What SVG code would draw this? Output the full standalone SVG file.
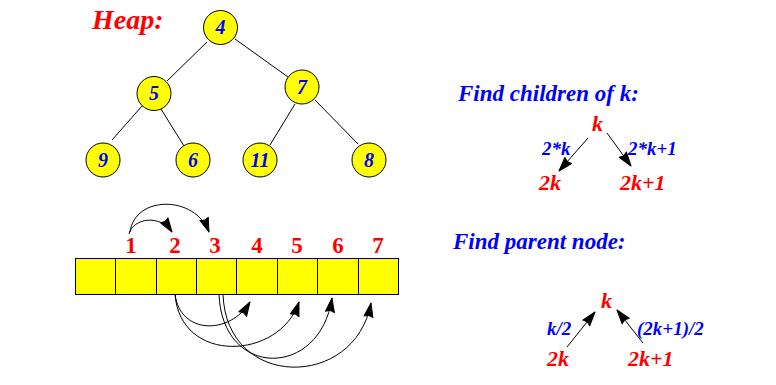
<svg xmlns="http://www.w3.org/2000/svg" width="776" height="385" viewBox="0 0 776 385">
<style>
.bg{fill:#ffffff}
.node{fill:#ffff00;stroke:#000;stroke-width:1}
.nt{font-family:"Liberation Serif",serif;font-weight:bold;font-style:italic;font-size:20px;fill:#0000ff;text-anchor:middle}
.edge{stroke:#000;stroke-width:1;fill:none}
.cell{fill:#ffff00;stroke:#000;stroke-width:1}
.idx{font-family:"Liberation Serif",serif;font-weight:bold;font-size:23px;fill:#ff0000;text-anchor:middle}
.title{font-family:"Liberation Serif",serif;font-weight:bold;font-style:italic;font-size:23px;fill:#0000ff}
.heap{font-family:"Liberation Serif",serif;font-weight:bold;font-style:italic;font-size:28px;fill:#ff0000}
.rk{font-family:"Liberation Serif",serif;font-weight:bold;font-style:italic;font-size:22px;fill:#ff0000}
.bl{font-family:"Liberation Serif",serif;font-weight:bold;font-style:italic;font-size:19px;fill:#0000ff}
.arr{stroke:#000;stroke-width:1;fill:none;marker-end:url(#ah)}
</style>
<defs>
<marker id="ah" markerUnits="userSpaceOnUse" viewBox="0 0 15 12" markerWidth="15" markerHeight="12" refX="14" refY="6" orient="auto" overflow="visible">
<path d="M0,1.5 L14,6 L0,10.5 L1.5,6 Z" fill="#000" stroke="#000" stroke-width="1" stroke-linejoin="round"/>
</marker>
</defs>
<rect class="bg" x="0" y="0" width="776" height="385"/>
<text class="heap" x="92" y="29">Heap:</text>
<g id="connectors">
<line class="edge" x1="207" y1="42" x2="167" y2="81"/>
<line class="edge" x1="235" y1="39" x2="288" y2="77"/>
<line class="edge" x1="142" y1="106" x2="112" y2="140"/>
<line class="edge" x1="161" y1="109" x2="184" y2="146"/>
<line class="edge" x1="295" y1="104" x2="270" y2="145"/>
<line class="edge" x1="315" y1="100" x2="358" y2="144"/>
<path class="arr" d="M129,234 C133,218 160,214 172,232"/>
<path class="arr" d="M130,232 C135,195 195,195 209,232"/>
<path class="arr" d="M175,294 C180,335 230,335 250,302"/>
<path class="arr" d="M175,294 C180,365 280,360 299,302"/>
<path class="arr" d="M219,294 C222,379 320,379 332,298"/>
<path class="arr" d="M223,294 C226,390 355,390 371,303"/>
<line class="arr" x1="588" y1="138" x2="559" y2="171"/>
<line class="arr" x1="607" y1="133" x2="631" y2="166"/>
<line class="arr" x1="567" y1="347" x2="595" y2="312"/>
<line class="arr" x1="643" y1="343" x2="617" y2="310"/>
</g>
<g id="n4"><circle class="node" cx="220.5" cy="27.5" r="17"/><text class="nt" x="220.5" y="34">4</text></g>
<g id="n5"><circle class="node" cx="154" cy="93.5" r="17"/><text class="nt" x="154" y="100">5</text></g>
<g id="n7"><circle class="node" cx="302" cy="87" r="17"/><text class="nt" x="302" y="93.5">7</text></g>
<g id="n9"><circle class="node" cx="103" cy="160" r="17"/><text class="nt" x="103" y="166.5">9</text></g>
<g id="n6"><circle class="node" cx="193" cy="160" r="17"/><text class="nt" x="193" y="166.5">6</text></g>
<g id="n11"><circle class="node" cx="260" cy="160" r="17"/><text class="nt" x="260" y="166.5">11</text></g>
<g id="n8"><circle class="node" cx="369" cy="160" r="17"/><text class="nt" x="369" y="166.5">8</text></g>
<g id="array">
<rect class="cell" x="75.5" y="258.5" width="40" height="36"/>
<rect class="cell" x="115.5" y="258.5" width="41" height="36"/>
<rect class="cell" x="156.5" y="258.5" width="40" height="36"/>
<rect class="cell" x="196.5" y="258.5" width="40" height="36"/>
<rect class="cell" x="236.5" y="258.5" width="41" height="36"/>
<rect class="cell" x="277.5" y="258.5" width="40" height="36"/>
<rect class="cell" x="317.5" y="258.5" width="41" height="36"/>
<rect class="cell" x="358.5" y="258.5" width="40" height="36"/>
</g>
<g id="indices">
<text class="idx" x="131" y="253">1</text>
<text class="idx" x="175" y="253">2</text>
<text class="idx" x="215" y="253">3</text>
<text class="idx" x="257" y="253">4</text>
<text class="idx" x="297" y="253">5</text>
<text class="idx" x="338" y="253">6</text>
<text class="idx" x="378" y="253">7</text>
</g>
<g id="children">
<text class="title" x="458" y="101">Find children of k:</text>
<text class="rk" x="592" y="131">k</text>
<text class="bl" x="542" y="155">2*k</text>
<text class="bl" x="628" y="155">2*k+1</text>
<text class="rk" x="539" y="190">2k</text>
<text class="rk" x="620" y="190">2k+1</text>
</g>
<g id="parent">
<text class="title" x="453" y="249">Find parent node:</text>
<text class="rk" x="601" y="308">k</text>
<text class="bl" x="547" y="335">k/2</text>
<text class="bl" x="637" y="335">(2k+1)/2</text>
<text class="rk" x="547" y="366">2k</text>
<text class="rk" x="628" y="366">2k+1</text>
</g>
</svg>
